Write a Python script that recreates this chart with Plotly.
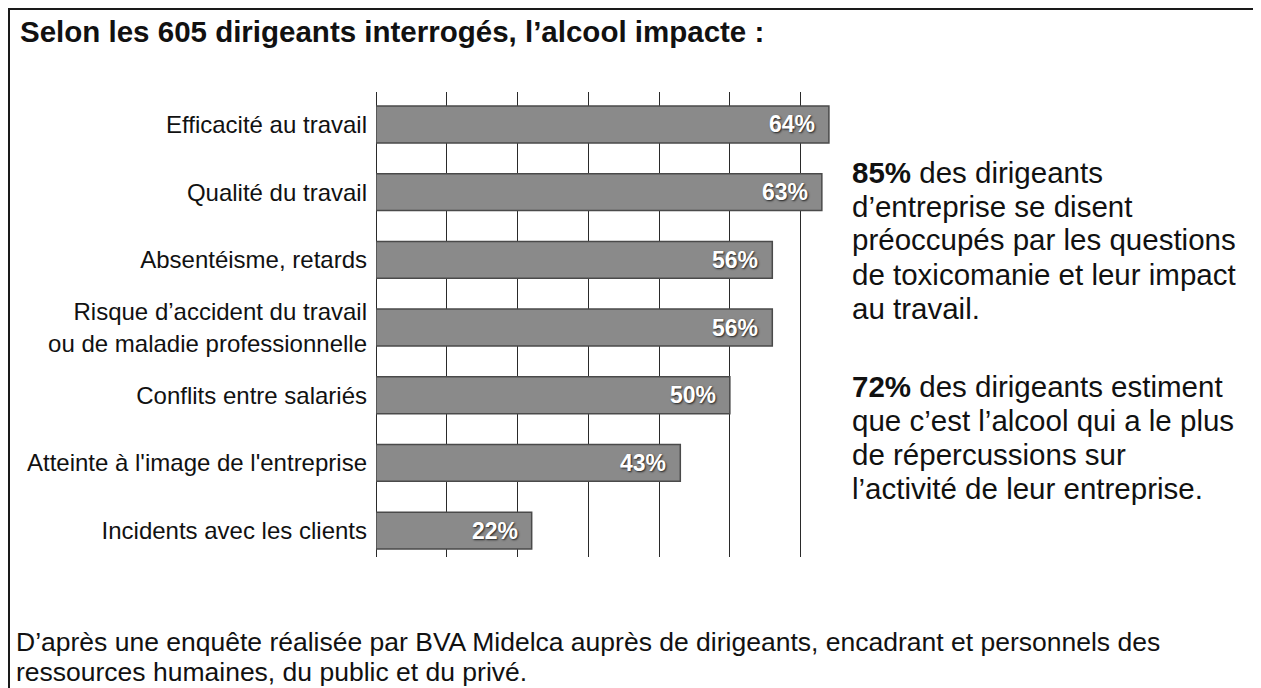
import plotly.graph_objects as go

# data
categories = [
    "Efficacité au travail",
    "Qualité du travail",
    "Absentéisme, retards",
    "Risque d’accident du travail<br>ou de maladie professionnelle",
    "Conflits entre salariés",
    "Atteinte à l'image de l'entreprise",
    "Incidents avec les clients",
]
values = [64, 63, 56, 56, 50, 43, 22]
value_labels = ["64%", "63%", "56%", "56%", "50%", "43%", "22%"]

title_text = "Selon les 605 dirigeants interrogés, l’alcool impacte :"
note_1 = ["<b>85%</b> des dirigeants", "d’entreprise se disent",
          "préoccupés par les questions", "de toxicomanie et leur impact",
          "au travail."]
note_2 = ["<b>72%</b> des dirigeants estiment", "que c’est l’alcool qui a le plus",
          "de répercussions sur", "l’activité de leur entreprise."]
footer = ["D’après une enquête réalisée par BVA Midelca auprès de dirigeants, "
          "encadrant et personnels des",
          "ressources humaines, du public et du privé."]

OFF = 8                      # page body margin
W, H = 1261 - OFF, 688 - OFF
L, R, T, B = 376, 836, 92, 557   # plot area, in screen pixels
FONT = "Liberation Sans, Arial, sans-serif"


def px(x, y):
    """screen pixel position -> paper coords"""
    return (x - L) / (R - L), (B - y) / (B - T)


fig = go.Figure(go.Bar(
    x=values, y=categories, orientation="h",
    width=0.545,
    marker=dict(color="#8a8a8a", line=dict(color="#4a4a4a", width=1.5)),
    hoverinfo="skip",
))

# value labels inside the bar ends
for c, v, t in zip(categories, values, value_labels):
    fig.add_annotation(x=v, y=c, text=t, xanchor="right", xshift=-12,
                       showarrow=False,
                       font=dict(family=FONT, size=23, color="white", weight="bold",
                                 shadow="1px 1px 2px #222"))

def text_line(x, y, s, size, bold=False):
    px_x, px_y = px(x, y)
    fig.add_annotation(x=px_x, y=px_y, xref="paper", yref="paper", text=s,
                       xanchor="left", yanchor="middle", showarrow=False,
                       font=dict(family=FONT, size=size, color="#111",
                                 weight="bold" if bold else "normal"))

text_line(18, 32, title_text, 29.5, bold=True)
for i, s in enumerate(note_1):
    text_line(850, 172 + i * 34, s, 29.5)
for i, s in enumerate(note_2):
    text_line(850, 386 + i * 34, s, 29.5)
for i, s in enumerate(footer):
    text_line(14, 642 + i * 30, s, 26.5)

# frame around the whole figure (open at the bottom, like the scan)
x0, y0 = px(OFF + 1, OFF + 1)
x1, y1 = px(1257, 700)
fig.add_shape(type="rect", xref="paper", yref="paper", x0=x0, y0=y1, x1=x1, y1=y0,
              line=dict(color="#1a1a1a", width=2))

fig.update_xaxes(range=[0, 65], dtick=10, showgrid=True, gridcolor="#2a2a2a",
                 gridwidth=1.4, zeroline=True, zerolinecolor="#2a2a2a",
                 zerolinewidth=1.4, showticklabels=False, fixedrange=True)
fig.update_yaxes(range=[6.39, -0.48], showgrid=False, ticks="",
                 tickfont=dict(family=FONT, size=24, color="#111"),
                 ticklabelstandoff=8)
fig.update_layout(
    width=W, height=H,
    margin=dict(l=L - OFF, r=1261 - R, t=T - OFF, b=688 - B),
    paper_bgcolor="white", plot_bgcolor="white",
    showlegend=False,
)

fig.write_html("out.html")
